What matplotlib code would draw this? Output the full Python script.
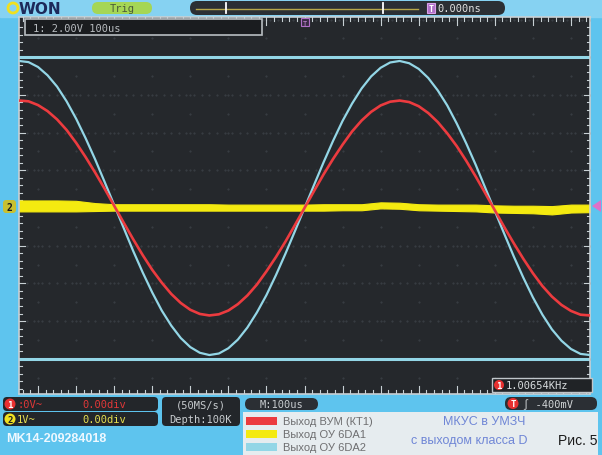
import matplotlib
matplotlib.use("Agg")
import matplotlib.pyplot as plt
from matplotlib.patches import Rectangle, FancyBboxPatch, Circle, Polygon
import numpy as np

# ---------------- data ----------------
# time in microseconds (100 us/div, trigger at 0)
t_us = list(range(-750, 775, 25))
# channel values in screen divisions
cyan_vals = [3.90, 3.87, 3.74, 3.52, 3.22, 2.83, 2.37, 1.85, 1.29, 0.69, 0.08,
             -0.53, -1.14, -1.71, -2.24, -2.72, -3.12, -3.45, -3.69, -3.84, -3.90,
             -3.86, -3.72, -3.49, -3.17, -2.77, -2.31, -1.78, -1.21, -0.61,
             0.00, 0.61, 1.21, 1.78, 2.31, 2.77, 3.17, 3.49, 3.72, 3.86, 3.90,
             3.84, 3.69, 3.45, 3.12, 2.72, 2.24, 1.71, 1.14, 0.53, -0.08,
             -0.69, -1.29, -1.85, -2.37, -2.83, -3.22, -3.52, -3.74, -3.87, -3.90]
red_vals = [2.85, 2.83, 2.73, 2.57, 2.35, 2.07, 1.73, 1.35, 0.94, 0.51, 0.06,
            -0.39, -0.83, -1.25, -1.64, -1.98, -2.28, -2.52, -2.70, -2.81, -2.85,
            -2.82, -2.72, -2.55, -2.32, -2.03, -1.68, -1.30, -0.89, -0.45,
            0.00, 0.45, 0.89, 1.30, 1.68, 2.03, 2.32, 2.55, 2.72, 2.82, 2.85,
            2.81, 2.70, 2.52, 2.28, 1.98, 1.64, 1.25, 0.83, 0.39, -0.06,
            -0.51, -0.94, -1.35, -1.73, -2.07, -2.35, -2.57, -2.73, -2.83, -2.85]
# yellow trace envelope (upper / lower edge of the noisy band), every 50 us
t_yel = list(range(-750, 800, 50))
yel_hi = [0.20, 0.20, 0.20, 0.19, 0.13, 0.10, 0.10, 0.10, 0.10, 0.10, 0.10,
          0.09, 0.09, 0.09, 0.09, 0.09, 0.10, 0.10, 0.10, 0.15, 0.14, 0.10,
          0.09, 0.09, 0.09, 0.07, 0.06, 0.06, 0.05, 0.09, 0.09]
yel_lo = [-0.09, -0.09, -0.09, -0.09, -0.08, -0.07, -0.07, -0.07, -0.07, -0.07, -0.07,
          -0.07, -0.07, -0.07, -0.07, -0.07, -0.07, -0.06, -0.06, -0.01, -0.02, -0.06,
          -0.07, -0.08, -0.09, -0.12, -0.13, -0.14, -0.17, -0.12, -0.11]
ref_levels = [4.0, -4.0]

legend_labels = ["Выход ВУМ (КТ1)", "Выход ОУ 6DA1", "Выход ОУ 6DA2"]
col_red, col_yel, col_cyan = "#ec3b3f", "#f4ea10", "#93d6e6"

W, H = 602, 456
fig = plt.figure(figsize=(W / 100, H / 100), dpi=100)

def px_axes(z):
    a = fig.add_axes([0, 0, 1, 1], zorder=z)
    a.set_xlim(0, W)
    a.set_ylim(H, 0)
    a.axis("off")
    a.patch.set_alpha(0)
    return a

bg = px_axes(0)
bg.add_patch(Rectangle((0, 0), W, H, color="#5ec4ee"))
bg.add_patch(Rectangle((0, 0), W, 18, color="#86d2f2"))

# ---------------- screen ----------------
L, T, R, B = 19, 18, 590, 395
ax = fig.add_axes([L / W, 1 - B / H, (R - L) / W, (B - T) / H], zorder=1)
ax.set_facecolor("#25282c")
ax.set_xlim(-750, 750)
ax.set_ylim(-186 / 37.7, 191 / 37.7)
ax.set_xticks([])
ax.set_yticks([])
for s in ax.spines.values():
    s.set_color("#c8d0d4")
    s.set_linewidth(1.2)

# grid dots (faint)
for gx in range(-700, 750, 100):
    ax.plot([gx] * 21, np.linspace(-5, 5, 21), ls="none", marker=".", ms=1.0,
            color="#3c4248", zorder=0.5)
for gy in range(-4, 6):
    ax.plot(np.linspace(-750, 750, 76), [gy] * 76, ls="none", marker=".", ms=1.0,
            color="#3c4248", zorder=0.5)
# border ticks
ylo, yhi = ax.get_ylim()
for gx in range(-740, 750, 20):
    major = gx % 100 == 0
    h = 0.22 if major else 0.1
    ax.plot([gx, gx], [yhi, yhi - h], color="#c8d0d4", lw=0.8)
    ax.plot([gx, gx], [ylo, ylo + h], color="#c8d0d4", lw=0.8)
for gy in np.arange(-4.8, 5.0, 0.2):
    major = abs(gy - round(gy)) < 1e-6
    w = 16 if major else 7
    ax.plot([-750, -750 + w], [gy, gy], color="#c8d0d4", lw=0.8)
    ax.plot([750, 750 - w], [gy, gy], color="#c8d0d4", lw=0.8)

for lv in ref_levels:
    ax.axhline(lv, color=col_cyan, lw=2.2, zorder=2)
ax.plot(t_us, cyan_vals, color=col_cyan, lw=1.6, zorder=3)
ax.plot(t_us, red_vals, color=col_red, lw=1.9, zorder=3)
ax.fill_between(t_yel, yel_lo, yel_hi, color=col_yel, lw=0.8, ec=col_yel, zorder=2.5)

# ---------------- overlay texts ----------------
ov = px_axes(2)
mono = "DejaVu Sans Mono"

def circ(x, y, r, fc, txt, tc="white"):
    ov.add_patch(Circle((x, y), r, fc=fc, ec="none"))
    ov.text(x, y + 0.5, txt, ha="center", va="center", fontsize=6.5,
            color=tc, fontweight="bold", family=mono)

# logo
ov.add_patch(Circle((13, 9), 5, fc="none", ec="#f0e020", lw=2))
ov.text(19, 9.5, "WON", fontsize=11, color="#1d2a5a", va="center",
        fontweight="bold", family="DejaVu Sans")
# Trig pill
ov.add_patch(FancyBboxPatch((92, 3), 60, 12, boxstyle="round,pad=0,rounding_size=6",
                            fc="#a5d655", ec="none"))
ov.text(122, 9.5, "Trig", fontsize=7.5, color="#4a5a3a", ha="center", va="center",
        family=mono)
# time-base pill
ov.add_patch(FancyBboxPatch((190, 2), 315, 14, boxstyle="round,pad=0,rounding_size=7",
                            fc="#2b2f34", ec="none"))
ov.plot([196, 418], [10, 10], color="#b8a84a", lw=1)
ov.plot([226, 226], [4, 14], color="white", lw=1.3)
ov.plot([383, 383], [4, 14], color="white", lw=1.3)
ov.add_patch(Rectangle((427, 4), 8, 10, fc="#b070c8", ec="#d8a0e8", lw=0.8))
ov.text(431, 9.5, "T", fontsize=6, color="white", ha="center", va="center",
        family=mono, fontweight="bold")
ov.text(437, 9.5, "0.000ns", fontsize=7.5, color="#e0e0e0", va="center", family=mono)
# trigger position marker on screen top
ov.add_patch(Rectangle((301, 19), 8, 8, fc="#3a2a45", ec="#b070c8", lw=0.8))
ov.text(305, 23.5, "T", fontsize=5, color="#d090e0", ha="center", va="center",
        family=mono)
# channel info box
ov.add_patch(Rectangle((25, 20), 237, 16, fc="#1a1c1f", ec="#b8bec2", lw=1.2))
ov.text(33, 28.5, "1: 2.00V 100us", fontsize=7.5, color="#b8bcc0", va="center",
        family=mono)
# left channel-2 marker
ov.add_patch(FancyBboxPatch((3, 201), 13, 13, boxstyle="round,pad=0,rounding_size=3",
                            fc="#c8c030", ec="none"))
ov.text(9.5, 208, "2", fontsize=7, color="#1a1a1a", ha="center", va="center",
        family=mono, fontweight="bold")
# right trigger level marker
ov.add_patch(Polygon([[601, 201], [601, 213], [592, 207]], fc="#e070c8", ec="none"))
# frequency box
ov.add_patch(Rectangle((492, 379), 100, 14, fc="#202326", ec="#c0c6ca", lw=1))
circ(499, 386, 5, "#e83030", "1")
ov.text(506, 386.5, "1.00654KHz", fontsize=7.5, color="#d8dcde", va="center",
        family=mono)

# bottom status
ov.add_patch(FancyBboxPatch((3, 398), 155, 14, boxstyle="round,pad=0,rounding_size=4",
                            fc="#23262a", ec="none"))
circ(10, 405, 5.5, "#e83030", "1")
ov.text(17, 405.5, ":0V~", fontsize=7.5, color="#e03838", va="center", family=mono)
ov.text(82, 405.5, "0.00div", fontsize=7.5, color="#e03838", va="center", family=mono)
ov.add_patch(FancyBboxPatch((3, 413), 155, 14, boxstyle="round,pad=0,rounding_size=4",
                            fc="#23262a", ec="none"))
circ(10, 420, 5.5, "#f0e020", "2", tc="#202020")
ov.text(17, 420.5, "1V~", fontsize=7.5, color="#e8e050", va="center", family=mono)
ov.text(82, 420.5, "0.00div", fontsize=7.5, color="#e8e050", va="center", family=mono)
ov.add_patch(FancyBboxPatch((162, 398), 78, 29, boxstyle="round,pad=0,rounding_size=4",
                            fc="#23262a", ec="none"))
ov.text(201, 406, "(50MS/s)", fontsize=7.5, color="#c8cccf", ha="center",
        va="center", family=mono)
ov.text(201, 420, "Depth:100K", fontsize=7.5, color="#c8cccf", ha="center",
        va="center", family=mono)
ov.add_patch(FancyBboxPatch((245, 399), 73, 12, boxstyle="round,pad=0,rounding_size=6",
                            fc="#2b2f34", ec="none"))
ov.text(281, 405.5, "M:100us", fontsize=7.5, color="#c8cccf", ha="center",
        va="center", family=mono)
ov.add_patch(FancyBboxPatch((505, 398), 92, 13, boxstyle="round,pad=0,rounding_size=6",
                            fc="#2b2f34", ec="none"))
circ(513, 404.5, 5.5, "#e83030", "T")
ov.text(523, 405, "∫ -400mV", fontsize=7.5, color="#d0d4d6", va="center",
        family=mono)
ov.text(6, 439, "MK14-209284018", fontsize=9, color="#eef8ff", va="center",
        fontweight="bold", family="Liberation Sans")

# legend panel
ov.add_patch(Rectangle((243, 413), 355, 43, fc="#e6ecef", ec="none"))
leg_cols = [col_red, col_yel, col_cyan]
for i, (lab, c) in enumerate(zip(legend_labels, leg_cols)):
    y = 422 + i * 13
    ov.add_patch(Rectangle((246, y - 4), 31, 8, fc=c, ec="none"))
    ov.text(283, y, lab, fontsize=8, color="#6e6e70", va="center",
            family="Liberation Sans")
ov.text(484, 422, "МКУС в УМЗЧ", fontsize=9, color="#6f86d6", ha="center",
        va="center", family="Liberation Sans")
ov.text(469, 441, "с выходом класса D", fontsize=9, color="#6f86d6", ha="center",
        va="center", family="Liberation Sans")
ov.text(597, 441, "Рис. 5", fontsize=10, color="#1a1a1a", ha="right",
        va="center", family="Liberation Sans")

fig.savefig("out.png", dpi=100)
